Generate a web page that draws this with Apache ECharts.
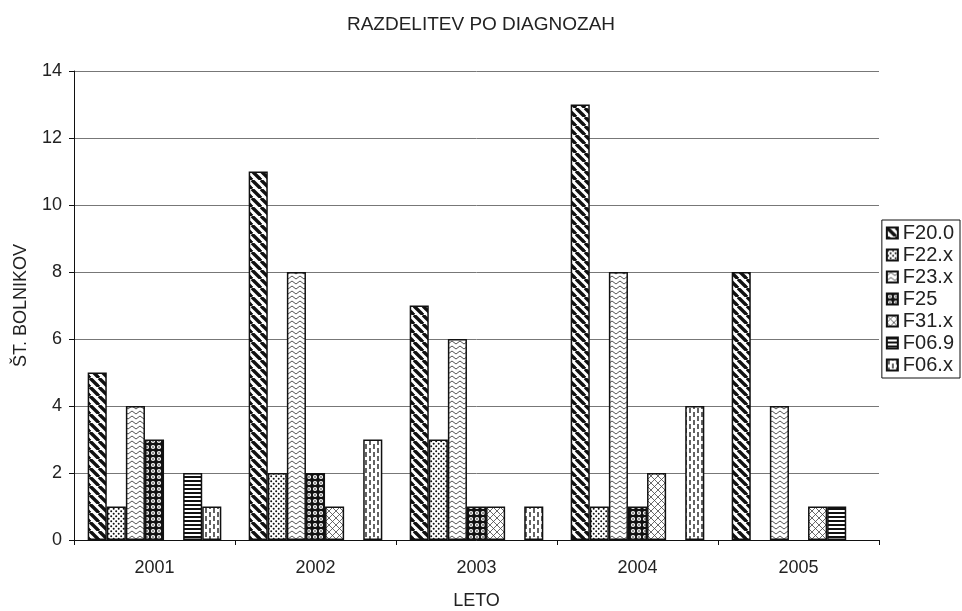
<!DOCTYPE html>
<html>
<head>
<meta charset="utf-8">
<script src="https://cdn.jsdelivr.net/npm/echarts@6/dist/echarts.min.js"></script>
<style>
  html, body { margin: 0; padding: 0; background: #fff; }
  #chart { width: 962px; height: 611px; }
</style>
</head>
<body>
<div id="chart"></div>
<script>
var years = ['2001', '2002', '2003', '2004', '2005'];
var diagnoses = ['F20.0', 'F22.x', 'F23.x', 'F25', 'F31.x', 'F06.9', 'F06.x'];

var f200 = [5, 11, 7, 13, 8];
var f22x = [1, 2, 3, 1, 0];
var f23x = [4, 8, 6, 8, 4];
var f25  = [3, 2, 1, 1, 0];
var f31x = [0, 1, 1, 2, 1];
var f069 = [2, 0, 0, 0, 1];
var f06x = [1, 3, 1, 4, 0];

var values = [f200, f22x, f23x, f25, f31x, f069, f06x];

function tile(w, h, draw) {
    var c = document.createElement('canvas');
    c.width = w; c.height = h;
    var ctx = c.getContext('2d');
    ctx.fillStyle = '#fff';
    ctx.fillRect(0, 0, w, h);
    draw(ctx);
    return { image: c, repeat: 'repeat' };
}

var patterns = [
    // wide diagonal stripes
    tile(9, 9, function (ctx) {
        ctx.strokeStyle = '#111'; ctx.lineWidth = 3.4;
        [-9, 0, 9].forEach(function (o) {
            ctx.beginPath(); ctx.moveTo(o, 0); ctx.lineTo(o + 9, 9); ctx.stroke();
        });
    }),
    // dots
    tile(5, 5, function (ctx) {
        ctx.fillStyle = '#111';
        [[1.2, 1.2], [3.7, 3.7]].forEach(function (p) {
            ctx.beginPath(); ctx.arc(p[0], p[1], 1, 0, Math.PI * 2); ctx.fill();
        });
    }),
    // zigzag
    tile(8, 5, function (ctx) {
        ctx.strokeStyle = '#555'; ctx.lineWidth = 1;
        ctx.beginPath(); ctx.moveTo(0, 4); ctx.lineTo(4, 1); ctx.lineTo(8, 4); ctx.stroke();
    }),
    // dark grid with circles
    tile(6, 6, function (ctx) {
        ctx.fillStyle = '#111';
        ctx.fillRect(0, 0, 6, 6);
        ctx.fillStyle = '#fff';
        ctx.beginPath(); ctx.arc(3, 3, 2.1, 0, Math.PI * 2); ctx.fill();
        ctx.fillStyle = '#111';
        ctx.beginPath(); ctx.arc(3, 3, 0.8, 0, Math.PI * 2); ctx.fill();
    }),
    // cross hatch
    tile(7, 7, function (ctx) {
        ctx.strokeStyle = '#444'; ctx.lineWidth = 0.8;
        ctx.beginPath();
        ctx.moveTo(0, 0); ctx.lineTo(7, 7);
        ctx.moveTo(7, 0); ctx.lineTo(0, 7);
        ctx.stroke();
    }),
    // horizontal stripes
    tile(4, 4, function (ctx) {
        ctx.fillStyle = '#111';
        ctx.fillRect(0, 0, 4, 2);
    }),
    // dashed vertical
    tile(8, 8, function (ctx) {
        ctx.strokeStyle = '#111'; ctx.lineWidth = 1.3;
        ctx.beginPath();
        ctx.moveTo(2, 0); ctx.lineTo(2, 5);
        ctx.moveTo(6, 4); ctx.lineTo(6, 8);
        ctx.moveTo(6, 0); ctx.lineTo(6, 1);
        ctx.stroke();
    })
];

var series = diagnoses.map(function (name, i) {
    return {
        name: name,
        type: 'bar',
        data: values[i].map(function (v) { return v === 0 ? null : v; }),
        barGap: 0,
        barCategoryGap: '17%',
        itemStyle: { color: patterns[i], borderColor: '#111', borderWidth: 1.5 }
    };
});

var chart = echarts.init(document.getElementById('chart'));
chart.setOption({
    animation: false,
    textStyle: { fontFamily: 'Liberation Sans, Arial, sans-serif', color: '#111' },
    title: {
        text: 'RAZDELITEV PO DIAGNOZAH',
        left: 'center', top: 10,
        textStyle: { fontSize: 19, fontWeight: 'normal', color: '#222' }
    },
    legend: {
        orient: 'vertical',
        right: 2, top: 220,
        icon: 'rect',
        itemWidth: 11, itemHeight: 11, itemGap: 2, itemTextGap: 3,
        borderColor: '#111', borderWidth: 1,
        padding: [3, 6, 3, 4],
        textStyle: { fontSize: 20, color: '#222' },
        data: diagnoses
    },
    grid: { left: 74, right: 83, top: 71, bottom: 71, outerBoundsMode: 'none' },
    xAxis: {
        type: 'category',
        data: years,
        name: 'LETO',
        nameLocation: 'middle',
        nameGap: 52,
        nameTextStyle: { fontSize: 18, color: '#222' },
        axisLine: { lineStyle: { color: '#111', width: 1 } },
        axisTick: { show: true, length: 5, lineStyle: { color: '#111' } },
        axisLabel: { fontSize: 18, color: '#222', margin: 19 }
    },
    yAxis: {
        type: 'value',
        min: 0, max: 14, interval: 2,
        name: 'ŠT. BOLNIKOV',
        nameLocation: 'middle',
        nameGap: 44,
        nameTextStyle: { fontSize: 18, color: '#222' },
        axisLine: { show: true, lineStyle: { color: '#111', width: 1 } },
        axisTick: { show: true, length: 5, lineStyle: { color: '#111' } },
        axisLabel: { fontSize: 18, color: '#222', margin: 12 },
        splitLine: { lineStyle: { color: '#777', width: 1 } }
    },
    series: series
});
</script>
</body>
</html>
